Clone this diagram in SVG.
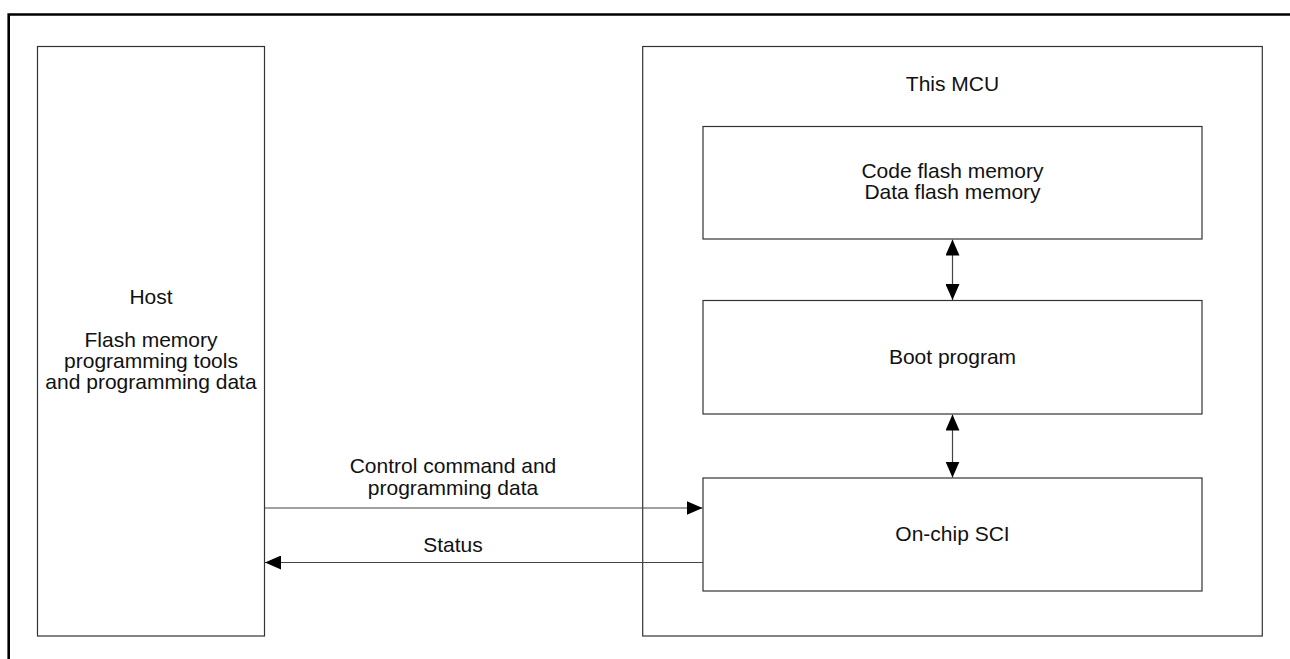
<svg xmlns="http://www.w3.org/2000/svg" width="1290" height="659" viewBox="0 0 1290 659">
<style>
.box{fill:#fff;stroke:#333;stroke-width:1.2}
.t{font-family:"Liberation Sans",Arial,sans-serif;font-size:21px;fill:#111;text-anchor:middle}
.c{stroke:#444;stroke-width:1.2;fill:none}
</style>
<defs>
<marker id="ah" viewBox="0 0 16 14" refX="16" refY="7" markerWidth="16" markerHeight="14" markerUnits="userSpaceOnUse" orient="auto-start-reverse">
<path d="M0,0 L16,7 L0,14 Z" fill="#000"/>
</marker>
</defs>
<rect width="1290" height="659" fill="#fff"/>
<g id="frame">
<path d="M8.7,659 V14.5 H1290" fill="none" stroke="#000" stroke-width="2.6"/>
</g>
<g id="host">
<rect class="box" x="37.5" y="46.5" width="227" height="589.5"/>
<text class="t" x="151" y="304">Host</text>
<text class="t" x="151" y="347">Flash memory</text>
<text class="t" x="151" y="368">programming tools</text>
<text class="t" x="151" y="389">and programming data</text>
</g>
<g id="mcu">
<rect class="box" x="642.7" y="46.5" width="619.6" height="589.5"/>
<text class="t" x="952.5" y="91">This MCU</text>
</g>
<g id="flash">
<rect class="box" x="703" y="126.5" width="499" height="112.5"/>
<text class="t" x="952.5" y="178">Code flash memory</text>
<text class="t" x="952.5" y="199">Data flash memory</text>
</g>
<g id="boot">
<rect class="box" x="703" y="300.5" width="499" height="113.5"/>
<text class="t" x="952.5" y="364">Boot program</text>
</g>
<g id="sci">
<rect class="box" x="703" y="478" width="499" height="113"/>
<text class="t" x="952.5" y="541">On-chip SCI</text>
</g>
<g id="connectors">
<line class="c" x1="952.5" y1="239.5" x2="952.5" y2="300" marker-start="url(#ah)" marker-end="url(#ah)"/>
<line class="c" x1="952.5" y1="414.5" x2="952.5" y2="477.5" marker-start="url(#ah)" marker-end="url(#ah)"/>
<line class="c" x1="264.5" y1="508" x2="702.5" y2="508" marker-end="url(#ah)"/>
<line class="c" x1="703" y1="562.5" x2="265" y2="562.5" marker-end="url(#ah)"/>
<text class="t" x="453" y="473">Control command and</text>
<text class="t" x="453" y="495">programming data</text>
<text class="t" x="453" y="552">Status</text>
</g>
</svg>
